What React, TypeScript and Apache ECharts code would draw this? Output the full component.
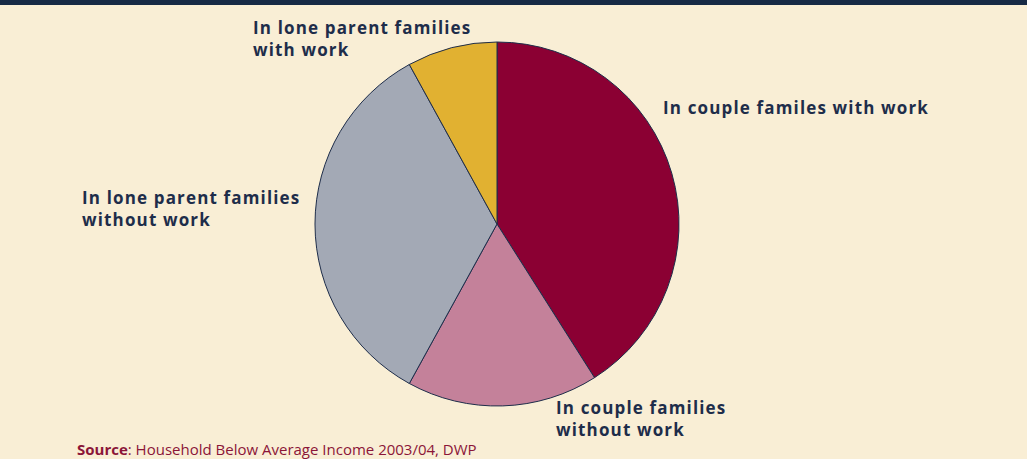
import React, { useEffect, useRef } from "react";
import * as echarts from "echarts";

const categories = [
  "In couple familes with work",
  "In couple families\nwithout work",
  "In lone parent families\nwithout work",
  "In lone parent families\nwith work",
];
const values = [41, 17, 34, 8];
const colors = ["#8B0033", "#C4819A", "#A3A9B5", "#E1B131"];
const labelPos = [
  { x: 663, y: 96 },
  { x: 556, y: 396 },
  { x: 82, y: 186 },
  { x: 253, y: 16 },
];

export default function App() {
  const ref = useRef<HTMLDivElement>(null);
  useEffect(() => {
    const chart = echarts.init(ref.current!, null, { renderer: "svg" });
    const applySpacing = () => {
      const el = ref.current;
      if (!el) return;
      el.querySelectorAll("text").forEach((t) => {
        const fs = (t as SVGTextElement).style.font || t.getAttribute("style") || "";
        if (/bold/.test(fs) && /17px/.test(fs)) {
          (t as SVGTextElement).style.letterSpacing = "1.15px";
        }
      });
    };
    chart.on("finished", applySpacing);
    chart.setOption({
      animation: false,
      backgroundColor: "#F9EED5",
      graphic: [
        { type: "rect", shape: { x: 0, y: 0, width: 1027, height: 5 }, style: { fill: "#172A45" } },
        {
          type: "text",
          x: 77,
          y: 449,
          style: {
            text: "{b|Source}: Household Below Average Income 2003/04, DWP",
            fill: "#8B1538",
            font: "15px 'Open Sans'",
            verticalAlign: "middle",
            rich: { b: { fontWeight: "bold", fontSize: 15, fontFamily: "Open Sans", fill: "#8B1538" } },
          },
        },
      ],
      series: [
        {
          type: "pie",
          center: [497, 224],
          radius: 182,
          startAngle: 90,
          clockwise: true,
          data: categories.map((c, i) => ({ name: c, value: values[i], itemStyle: { color: colors[i] } })),
          itemStyle: { borderColor: "#1E2D4A", borderWidth: 1 },
          label: {
            show: true,
            formatter: "{b}",
            color: "#1E2D4A",
            fontFamily: "Open Sans",
            fontWeight: "bold",
            fontSize: 17,
            lineHeight: 22,
            align: "left",
          },
          labelLine: { show: false },
          labelLayout: (p: any) => ({
            x: labelPos[p.dataIndex].x,
            y: labelPos[p.dataIndex].y,
            align: "left",
            verticalAlign: "top",
          }),
          emphasis: { disabled: true },
        },
      ],
    });
    applySpacing();
    return () => chart.dispose();
  }, []);
  return <div ref={ref} style={{ position: "fixed", left: 0, top: 0, width: 1027, height: 459 }} />;
}
